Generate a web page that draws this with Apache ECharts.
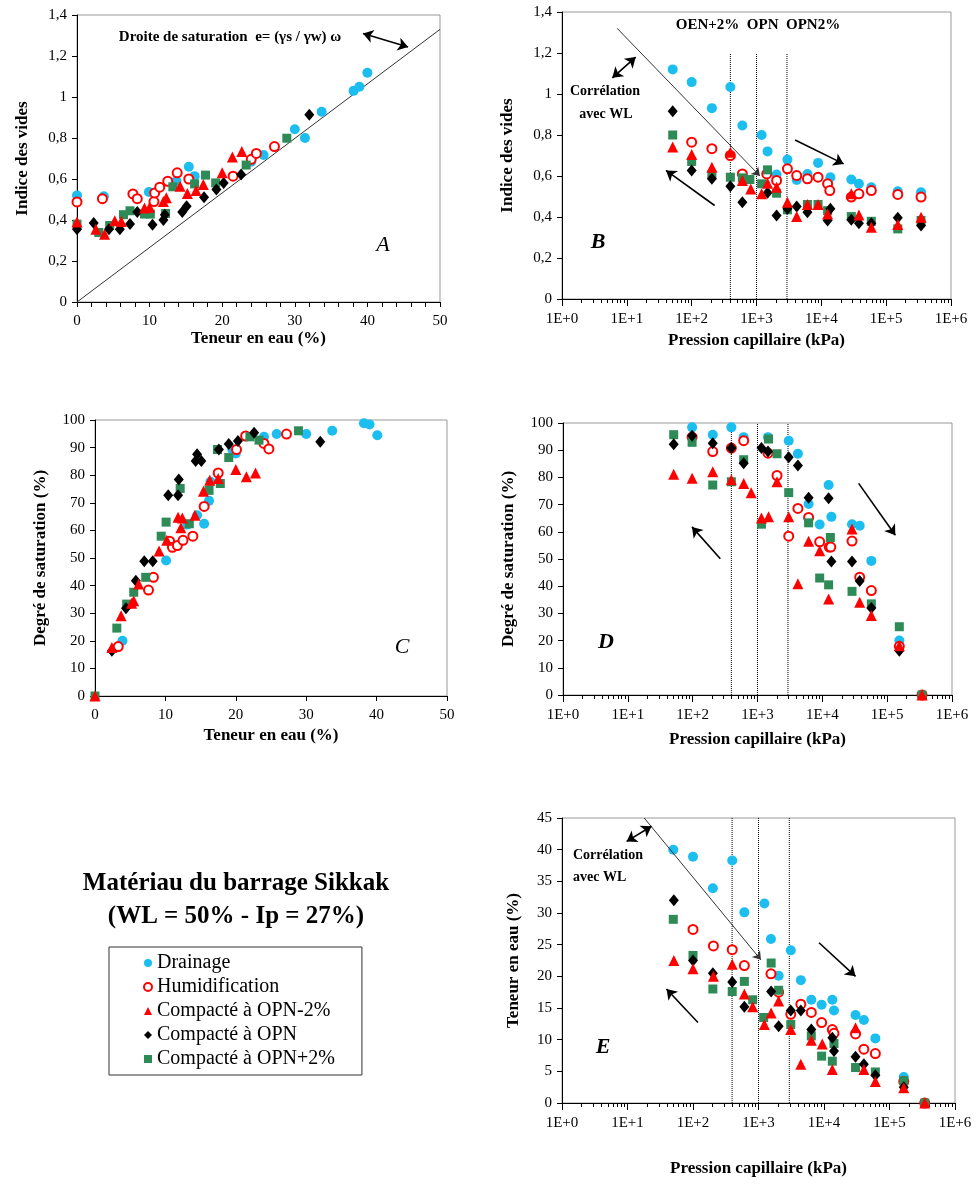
<!DOCTYPE html>
<html><head><meta charset="utf-8">
<script src="https://cdn.jsdelivr.net/npm/echarts@6/dist/echarts.min.js"></script>
<style>html,body{margin:0;padding:0;background:#fff}#c{width:978px;height:1184px}</style>
</head><body><div id="c"></div>
<script>
// ---------- names ----------
const seriesNames = ['Drainage','Humidification','Compacté à OPN-2%','Compacté à OPN','Compacté à OPN+2%'];
// ---------- tick labels ----------
const logMajorTicks = [1,10,100,1000,10000,100000,1000000];
const logMinorTicks = [];
for (let d = 0; d < 6; d++) for (let k = 2; k <= 9; k++) logMinorTicks.push(k * Math.pow(10, d));
// suction values at OPN+2%, OPN, OPN-2% (dotted lines)
const suctionOPN = [395, 1000, 2950];

// ---------- Panel A : indice des vides vs teneur en eau ----------
const A_drain = [[0,0.52],[3.7,0.516],[9.9,0.537],[13.7,0.59],[15.4,0.66],[16.2,0.614],[24.0,0.684],[25.7,0.717],[30.0,0.843],[31.4,0.80],[33.7,0.928],[38.1,1.03],[38.9,1.05],[40.0,1.118]];
const A_humid = [[0,0.488],[3.5,0.504],[7.7,0.527],[8.3,0.504],[10.6,0.49],[10.7,0.532],[11.4,0.56],[12.5,0.589],[13.8,0.63],[15.4,0.60],[21.5,0.614],[24.0,0.696],[24.7,0.725],[27.2,0.758]];
const A_opnm2 = [[0,0.39],[2.6,0.355],[3.8,0.331],[5.2,0.396],[6.1,0.393],[9.3,0.458],[10.0,0.462],[11.9,0.49],[12.3,0.508],[14.2,0.565],[15.2,0.529],[16.4,0.544],[17.4,0.573],[20.0,0.63],[21.4,0.707],[22.7,0.734]];
const A_opn = [[0,0.355],[2.3,0.385],[4.4,0.355],[5.9,0.355],[7.3,0.38],[8.3,0.439],[10.4,0.377],[11.9,0.40],[12.1,0.426],[14.5,0.439],[15.1,0.467],[17.5,0.511],[19.2,0.549],[20.2,0.581],[22.6,0.622],[32.0,0.914]];
const A_opnp2 = [[0,0.38],[3.0,0.339],[4.5,0.373],[6.4,0.426],[7.3,0.445],[9.3,0.429],[10.1,0.429],[12.2,0.432],[13.2,0.562],[16.2,0.576],[17.7,0.619],[19.1,0.581],[23.3,0.668],[28.9,0.799]];
const A_saturationLine = [[0,0],[50,1.33]];
const A_arrows = [[[39.4,1.31],[45.6,1.244],'both']];

// ---------- Panel B : indice des vides vs pression capillaire ----------
const B_drain = [[51,1.12],[100,1.058],[205,0.931],[395,1.034],[605,0.846],[1200,0.80],[1480,0.72],[2040,0.607],[3000,0.68],[4170,0.581],[6100,0.61],[8900,0.664],[12500,0.565],[13800,0.594],[29000,0.583],[38000,0.562],[59000,0.545],[151000,0.526],[345000,0.521]];
const B_humid = [[100,0.765],[205,0.733],[395,0.70],[605,0.61],[1440,0.61],[2040,0.578],[3000,0.635],[4170,0.602],[6100,0.586],[8900,0.594],[12500,0.562],[13500,0.529],[29000,0.497],[38000,0.513],[59000,0.529],[151000,0.51],[345000,0.497]];
const B_opnm2 = [[51,0.741],[100,0.705],[205,0.643],[395,0.716],[605,0.578],[815,0.537],[1200,0.513],[1480,0.565],[2040,0.545],[3000,0.472],[4170,0.402],[6100,0.461],[8900,0.461],[12500,0.415],[29000,0.513],[38000,0.41],[59000,0.35],[151000,0.363],[345000,0.399]];
const B_opn = [[51,0.916],[100,0.627],[205,0.586],[395,0.55],[605,0.472],[1480,0.518],[2040,0.407],[3000,0.44],[4170,0.451],[6100,0.423],[12500,0.383],[13800,0.44],[29000,0.387],[38000,0.37],[59000,0.37],[151000,0.396],[345000,0.358]];
const B_opnp2 = [[51,0.80],[100,0.671],[205,0.607],[395,0.594],[605,0.591],[790,0.583],[1200,0.562],[1480,0.63],[2040,0.516],[3000,0.435],[6100,0.461],[8900,0.461],[12500,0.431],[29000,0.402],[59000,0.379],[151000,0.342],[345000,0.383]];
const B_corrLine = [[7.1,1.32],[1130,0.60]];
const B_arrows = [[[5.97,1.079],[13.7,1.18],'both'],[[226,0.456],[40.2,0.627],'end'],[[3940,0.776],[22100,0.659],'end']];

// ---------- Panel C : degré de saturation vs teneur en eau ----------
const C_drain = [[3.9,20.0],[10.1,49.1],[13.1,62.1],[14.5,65.5],[15.5,62.4],[16.2,70.7],[16.4,77.6],[19.5,89.3],[20.0,87.9],[24.0,93.9],[25.8,94.9],[30.0,94.9],[33.7,96.1],[38.2,98.8],[39.0,98.4],[40.1,94.5]];
const C_humid = [[3.3,17.9],[7.6,38.4],[8.3,43.0],[10.6,56.1],[11.0,53.9],[11.7,54.5],[12.5,56.4],[13.9,57.9],[15.5,68.7],[17.5,80.8],[20.1,89.3],[21.4,94.2],[24.0,91.5],[24.7,89.5],[27.2,94.9]];
const C_opnm2 = [[0,0],[2.4,17.6],[3.7,29.1],[5.2,33.6],[5.5,34.5],[6.2,40.6],[9.1,52.5],[10.2,56.4],[11.8,64.8],[12.4,64.5],[12.2,61.0],[14.2,65.5],[15.4,74.2],[16.3,78.2],[17.5,78.8],[20.0,82.1],[21.5,79.4],[22.8,80.8]];
const C_opn = [[2.4,16.4],[4.4,31.8],[5.8,41.8],[7.0,48.8],[8.2,48.8],[10.4,72.7],[11.8,72.7],[11.9,78.4],[14.3,85.1],[14.5,87.6],[15.1,85.1],[17.6,89.3],[19.0,91.3],[20.3,92.4],[22.6,95.4],[32.0,92.1]];
const C_opnp2 = [[0,0],[3.1,24.6],[4.5,33.3],[5.5,37.6],[7.2,43.0],[9.4,57.9],[10.1,63.0],[12.1,75.2],[13.4,62.4],[16.2,74.5],[17.4,89.3],[17.8,77.0],[19.0,86.4],[22.0,93.9],[23.3,92.7],[28.9,96.1]];

// ---------- Panel D : degré de saturation vs pression capillaire ----------
const D_drain = [[98,98.4],[204,95.7],[395,98.4],[612,94.8],[1450,94.8],[3030,93.5],[4200,88.7],[6140,70.2],[9100,62.7],[12500,77.2],[13800,65.5],[28700,62.8],[37700,62.2],[57000,49.3],[154000,20.0]];
const D_humid = [[98,94.8],[204,89.5],[395,90.8],[612,93.5],[1450,88.9],[2000,80.7],[3030,58.4],[4200,68.6],[6140,65.3],[9100,56.3],[12800,54.4],[13500,54.4],[28700,56.6],[37700,43.3],[57000,38.4],[154000,17.9],[345000,0]];
const D_opnm2 = [[51,81.2],[98,79.7],[204,82.1],[395,79.1],[612,77.8],[800,74.4],[1150,65.1],[1480,65.5],[2000,78.4],[3030,65.5],[4200,40.9],[6140,56.5],[9100,53.0],[12500,35.3],[28700,61.0],[37700,34.1],[57000,29.2],[154000,18.1],[345000,0]];
const D_opn = [[51,92.2],[98,95.3],[204,92.6],[395,90.8],[612,85.2],[1150,90.8],[1450,89.5],[3030,87.4],[4200,84.4],[6140,72.5],[12500,72.3],[13800,49.1],[28700,49.1],[37700,41.9],[57000,32.0],[154000,16.3]];
const D_opnp2 = [[51,95.7],[98,92.9],[204,77.2],[395,78.4],[612,86.5],[1150,62.8],[1480,94.1],[2000,88.7],[3030,74.4],[6140,63.3],[9100,43.0],[12500,40.5],[13300,57.9],[28700,38.1],[57000,33.5],[154000,25.1],[345000,0]];
const D_arrows = [[[267,50.1],[97.6,61.8],'end'],[[36300,77.8],[133600,58.7],'end']];

// ---------- Panel E : teneur en eau vs pression capillaire ----------
const E_drain = [[50,40.0],[100,38.9],[201,33.9],[397,38.3],[608,30.1],[1230,31.5],[1550,25.9],[2030,20.1],[3110,24.1],[4430,19.4],[6400,16.3],[9200,15.5],[13400,16.3],[14200,14.6],[30300,13.9],[40600,13.1],[60800,10.2],[165000,4.1]];
const E_humid = [[100,27.4],[205,24.8],[397,24.2],[608,21.7],[1550,20.4],[2030,17.5],[3110,14.0],[4430,15.6],[6400,14.3],[9200,12.7],[13400,11.6],[14200,11.0],[30300,10.9],[40600,8.5],[60800,7.8],[165000,3.4],[345000,0]];
const E_opnm2 = [[51,22.5],[100,21.2],[205,20.0],[397,21.9],[608,17.2],[815,15.2],[1230,12.4],[1560,14.2],[2030,16.1],[3110,11.6],[4430,6.1],[6400,9.9],[9400,9.3],[13400,5.3],[30300,11.9],[40600,5.3],[60800,3.4],[165000,2.4],[345000,0]];
const E_opn = [[51,32.0],[100,22.5],[201,20.5],[397,19.1],[608,15.2],[1560,17.6],[2030,12.1],[3110,14.6],[4430,14.6],[6400,11.6],[13400,10.3],[14200,8.2],[30300,7.3],[40600,6.1],[60800,4.4],[165000,2.5]];
const E_opnp2 = [[50,29.0],[100,23.3],[201,18.0],[397,17.6],[608,19.2],[815,16.3],[1200,13.5],[1560,22.1],[2030,17.8],[3110,12.4],[6400,10.6],[9200,7.4],[13400,6.6],[14200,9.4],[30300,5.6],[60800,4.9],[165000,3.5],[345000,0]];
const E_corrLine = [[18,45],[1090,22.6]];
const E_arrows = [[[9.7,41.3],[23.3,43.7],'both'],[[119,12.7],[39.4,18.0],'end'],[[8400,25.3],[30300,20.0],'end']];

// ---------- build ----------
const FONT = 'Liberation Serif';
const marker = {
  'Drainage': {symbol:'circle', symbolSize:10, itemStyle:{color:'#1CBEF0', opacity:1}},
  'Humidification': {symbol:'emptyCircle', symbolSize:9, itemStyle:{color:'#FF0000', borderColor:'#FF0000', borderWidth:1.2, opacity:1}},
  'Compacté à OPN-2%': {symbol:'triangle', symbolSize:11, itemStyle:{color:'#FF0000', opacity:1}},
  'Compacté à OPN': {symbol:'diamond', symbolSize:[10,12], itemStyle:{color:'#000000', opacity:1}},
  'Compacté à OPN+2%': {symbol:'rect', symbolSize:9, itemStyle:{color:'#2E8B57', opacity:1}}
};
const drawOrder = ['Drainage','Humidification','Compacté à OPN+2%','Compacté à OPN','Compacté à OPN-2%'];
const panelData = [
  {xi:0, yi:0, d:{'Drainage':A_drain,'Humidification':A_humid,'Compacté à OPN-2%':A_opnm2,'Compacté à OPN':A_opn,'Compacté à OPN+2%':A_opnp2}},
  {xi:1, yi:1, d:{'Drainage':B_drain,'Humidification':B_humid,'Compacté à OPN-2%':B_opnm2,'Compacté à OPN':B_opn,'Compacté à OPN+2%':B_opnp2}},
  {xi:2, yi:2, d:{'Drainage':C_drain,'Humidification':C_humid,'Compacté à OPN-2%':C_opnm2,'Compacté à OPN':C_opn,'Compacté à OPN+2%':C_opnp2}},
  {xi:3, yi:3, d:{'Drainage':D_drain,'Humidification':D_humid,'Compacté à OPN-2%':D_opnm2,'Compacté à OPN':D_opn,'Compacté à OPN+2%':D_opnp2}},
  {xi:4, yi:4, d:{'Drainage':E_drain,'Humidification':E_humid,'Compacté à OPN-2%':E_opnm2,'Compacté à OPN':E_opn,'Compacté à OPN+2%':E_opnp2}}
];

const grids = [
  {left:77, top:15, width:363, height:287},
  {left:562, top:12, width:389, height:287},
  {left:95, top:420, width:352, height:276},
  {left:563, top:423, width:389, height:272},
  {left:562, top:818, width:393, height:285}
].map(g => Object.assign(g, {show:true, borderColor:'#999', borderWidth:1, backgroundColor:'transparent'}));

const tickLbl = {color:'#000', fontFamily:FONT, fontSize:15};
const nameStyle = {color:'#000', fontFamily:FONT, fontSize:17, fontWeight:'bold'};
const axLine = {show:true, lineStyle:{color:'#000', width:1}};
const comma = v => String(Math.round(v*10)/10).replace('.', ',');
const expLbl = v => '1E+' + Math.round(Math.log10(v));

function valX(gi, max, interval, minorSplit, name, gap) {
  return {type:'value', gridIndex:gi, min:0, max:max, interval:interval, position:'bottom',
    axisLine:axLine, axisTick:{show:true, length:5, lineStyle:{color:'#000'}},
    minorTick:{show:!!minorSplit, splitNumber:minorSplit||5, length:5, lineStyle:{color:'#000'}},
    splitLine:{show:false}, axisLabel:Object.assign({margin:12}, tickLbl),
    name:name, nameLocation:'middle', nameGap:gap, nameTextStyle:nameStyle};
}
function logX(gi, name, gap) {
  return {type:'log', gridIndex:gi, logBase:10, min:1, max:1000000, position:'bottom',
    axisLine:axLine, axisTick:{show:true, length:7, customValues:logMajorTicks, lineStyle:{color:'#000'}},
    splitLine:{show:false}, axisLabel:Object.assign({margin:13, customValues:logMajorTicks, formatter:expLbl}, tickLbl),
    name:name, nameLocation:'middle', nameGap:gap, nameTextStyle:nameStyle};
}
function logMinorX(gi) {
  return {type:'log', gridIndex:gi, logBase:10, min:1, max:1000000, position:'bottom',
    axisLine:{show:false}, axisTick:{show:true, length:4, customValues:logMinorTicks, lineStyle:{color:'#000'}},
    axisLabel:{show:false}, splitLine:{show:false}};
}
function valY(gi, max, interval, fmt, name, gap) {
  return {type:'value', gridIndex:gi, min:0, max:max, interval:interval,
    axisLine:axLine, axisTick:{show:true, length:5, lineStyle:{color:'#000'}},
    splitLine:{show:false}, axisLabel:Object.assign({margin:10, formatter:fmt}, tickLbl),
    name:name, nameLocation:'middle', nameGap:gap, nameRotate:90, nameTextStyle:nameStyle};
}

const xAxes = [
  valX(0, 50, 10, 5, 'Teneur en eau (%)', 28),
  logX(1, 'Pression capillaire (kPa)', 33),
  valX(2, 50, 10, 0, 'Teneur en eau (%)', 31),
  logX(3, 'Pression capillaire (kPa)', 36),
  logX(4, 'Pression capillaire (kPa)', 57),
  logMinorX(1), logMinorX(3), logMinorX(4)
];
const yAxes = [
  valY(0, 1.4, 0.2, comma, 'Indice des vides', 46),
  valY(1, 1.4, 0.2, comma, 'Indice des vides', 46),
  valY(2, 100, 10, v => String(v), 'Degré de saturation (%)', 46),
  valY(3, 100, 10, v => String(v), 'Degré de saturation (%)', 46),
  valY(4, 45, 5, v => String(v), 'Teneur en eau (%)', 40)
];

const series = [];
panelData.forEach(p => {
  drawOrder.forEach(n => {
    const m = marker[n];
    series.push({type:'scatter', name:n, xAxisIndex:p.xi, yAxisIndex:p.yi, data:p.d[n],
      symbol:m.symbol, symbolSize:m.symbolSize, itemStyle:m.itemStyle, z:3});
  });
});

function plainLine(xi, yi, data, style) {
  return {type:'line', name:'_l', xAxisIndex:xi, yAxisIndex:yi, data:data, symbol:'none',
    silent:true, lineStyle:style, z:2};
}
function arrowSeries(xi, yi, arrows) {
  return {type:'line', name:'_a', xAxisIndex:xi, yAxisIndex:yi, data:[], silent:true,
    markLine:{silent:true, animation:false, symbolSize:10, label:{show:false},
      lineStyle:{color:'#000', width:1.6, type:'solid'},
      data: arrows.map(a => [
        {coord:a[0], symbol: a[2]==='both' ? 'arrow' : 'none'},
        {coord:a[1], symbol:'arrow'}
      ])}};
}
function corrSeries(xi, yi, line) {
  return {type:'line', name:'_c', xAxisIndex:xi, yAxisIndex:yi, data:[], silent:true,
    markLine:{silent:true, symbolSize:8, label:{show:false}, lineStyle:{color:'#333', width:1, type:'solid'},
      data:[[{coord:line[0], symbol:'none'},{coord:line[1], symbol:'arrow'}]]}};
}
// A
series.push(plainLine(0, 0, A_saturationLine, {color:'#333', width:1}));
series.push(arrowSeries(0, 0, A_arrows));
// B
suctionOPN.forEach(s => series.push(plainLine(1, 1, [[s,0],[s,1.2]], {color:'#000', width:1, type:'dotted'})));
series.push(corrSeries(1, 1, B_corrLine));
series.push(arrowSeries(1, 1, B_arrows));
// D
suctionOPN.forEach(s => series.push(plainLine(3, 3, [[s,0],[s,100]], {color:'#000', width:1, type:'dotted'})));
series.push(arrowSeries(3, 3, D_arrows));
// E
suctionOPN.forEach(s => series.push(plainLine(4, 4, [[s,0],[s,45]], {color:'#000', width:1, type:'dotted'})));
series.push(corrSeries(4, 4, E_corrLine));
series.push(arrowSeries(4, 4, E_arrows));

function txt(x, y, s, font, align) {
  return {type:'text', x:x, y:y, silent:true, style:{text:s, font:font, fill:'#000', textAlign:align||'center', textVerticalAlign:'middle'}};
}
const graphics = [
  txt(230, 37, 'Droite de saturation  e= (γs / γw) ω', 'bold 15px "Liberation Serif"'),
  txt(383, 245, 'A', 'italic 22px "Liberation Serif"'),
  txt(605, 91, 'Corrélation', 'bold 14px "Liberation Serif"'),
  txt(606, 114, 'avec WL', 'bold 14px "Liberation Serif"'),
  txt(758, 25, 'OEN+2%  OPN  OPN2%', 'bold 15px "Liberation Serif"'),
  txt(598, 242, 'B', 'italic bold 22px "Liberation Serif"'),
  txt(402, 647, 'C', 'italic 22px "Liberation Serif"'),
  txt(606, 642, 'D', 'italic bold 22px "Liberation Serif"'),
  txt(573, 855, 'Corrélation', 'bold 14px "Liberation Serif"', 'left'),
  txt(573, 877, 'avec WL', 'bold 14px "Liberation Serif"', 'left'),
  txt(603, 1047, 'E', 'italic bold 22px "Liberation Serif"'),
  txt(236, 884, 'Matériau du barrage Sikkak', 'bold 25px "Liberation Serif"'),
  txt(236, 917, '(WL = 50% - Ip = 27%)', 'bold 25px "Liberation Serif"')
];

const chart = echarts.init(document.getElementById('c'), null, {renderer:'canvas'});
chart.setOption({
  animation:false,
  backgroundColor:'#fff',
  grid:grids,
  xAxis:xAxes,
  yAxis:yAxes,
  legend:{data:seriesNames, orient:'vertical', left:109, top:947, itemGap:4, itemWidth:8, itemHeight:8,
    padding:[6,27,6,34], borderColor:'#333', borderWidth:1, backgroundColor:'#fff',
    textStyle:{fontFamily:FONT, fontSize:20, color:'#000'}, selectedMode:false},
  graphic:graphics,
  series:series
});
</script></body></html>
